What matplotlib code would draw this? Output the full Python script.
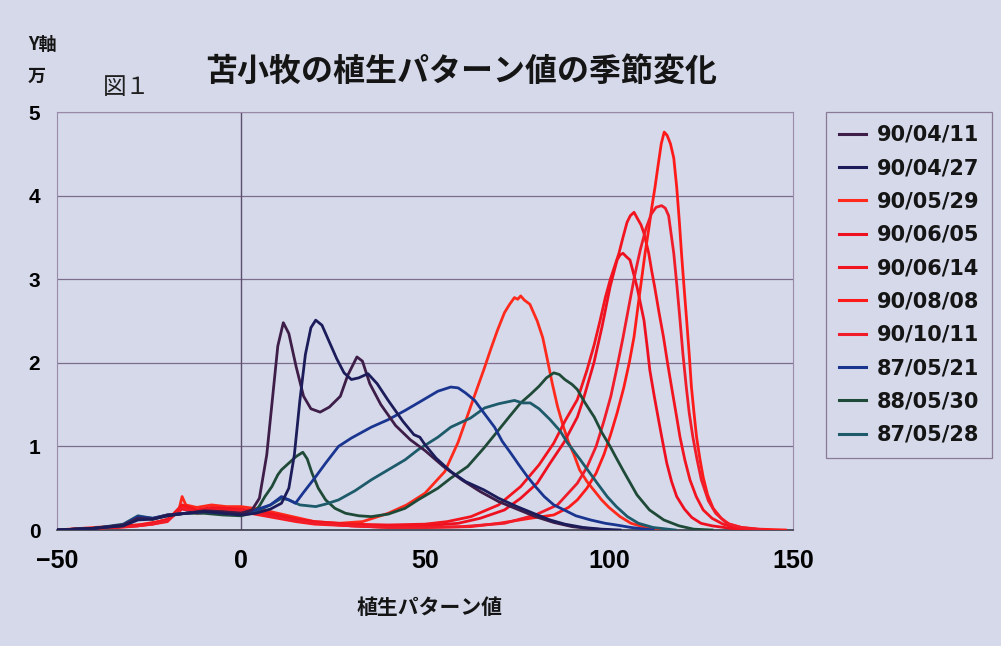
import matplotlib.pyplot as plt
from matplotlib.lines import Line2D

# 背景色など
bg = '#d5d9ea'
grid_c = '#7d6d8c'
jp_font = ['Noto Sans CJK JP', 'DejaVu Sans']
num_font = ['Liberation Sans Narrow', 'Liberation Sans', 'DejaVu Sans']

labels = ['90/04/11', '90/04/27', '90/05/29', '90/06/05', '90/06/14',
          '90/08/08', '90/10/11', '87/05/21', '88/05/30', '87/05/28']
colors = ['#3e1d48', '#1c1c5a', '#ff2a1c', '#ee1020', '#f2141e',
          '#ff1a1a', '#f01c2a', '#1a3590', '#1f4a38', '#1d5a6a']

# 90/04/11
x_0411 = [-50, -40, -32, -28, -24, -20, -15, -10, -5, 0, 3, 5, 7, 8.5, 10, 11.5, 13, 15, 17, 19,
          21.5, 24, 27, 29, 31.5, 33, 35, 38, 42, 46, 50, 55, 60, 65, 70, 75, 80, 85, 90, 95, 100]
y_0411 = [0, 0.02, 0.06, 0.14, 0.13, 0.18, 0.2, 0.23, 0.22, 0.2, 0.24, 0.38, 0.9, 1.55, 2.2, 2.48, 2.35, 1.95, 1.6, 1.45,
          1.41, 1.47, 1.6, 1.85, 2.07, 2.02, 1.75, 1.5, 1.25, 1.08, 0.95, 0.76, 0.6, 0.46, 0.34, 0.25, 0.16, 0.09, 0.04, 0.015, 0]

# 90/04/27
x_0427 = [-50, -40, -32, -28, -24, -20, -15, -10, -5, 0, 4, 8, 11, 13, 14.5, 16, 17.5, 19, 20.3, 22,
          24, 26, 28, 30, 32, 34.5, 37, 40, 44, 47, 48.6, 50, 53, 57, 61, 66, 70, 75, 80, 84, 88, 93, 98, 103]
y_0427 = [0, 0.02, 0.05, 0.12, 0.13, 0.17, 0.2, 0.22, 0.2, 0.18, 0.2, 0.25, 0.32, 0.5, 0.9, 1.55, 2.1, 2.42, 2.51, 2.45,
          2.25, 2.05, 1.88, 1.8, 1.82, 1.87, 1.75, 1.55, 1.3, 1.14, 1.11, 1.02, 0.86, 0.7, 0.58, 0.48, 0.38, 0.28, 0.19, 0.12, 0.07, 0.03, 0.01, 0]

# 90/05/29
x_0529 = [-50, -40, -33, -28, -24, -20, -17, -16, -15, -12, -8, -4, 0, 5, 10, 15, 20, 26.5, 33, 40, 45, 50,
          55.4, 59, 63, 66, 68, 69.7, 71.6, 73, 74.3, 75.2, 76, 77, 78.5, 79.5, 80.5, 82, 83.2, 84.6, 86,
          87.5, 89, 90.5, 92, 94, 96, 98, 100, 103, 106, 110, 116]
y_0529 = [0, 0.03, 0.05, 0.06, 0.09, 0.12, 0.22, 0.4, 0.3, 0.27, 0.3, 0.28, 0.28, 0.25, 0.2, 0.15, 0.1, 0.08, 0.1, 0.2, 0.3, 0.44,
          0.7, 1.05, 1.55, 1.92, 2.18, 2.39, 2.6, 2.7, 2.78, 2.76, 2.8, 2.75, 2.7, 2.6, 2.5, 2.3, 2.05, 1.75, 1.48,
          1.25, 1.05, 0.9, 0.72, 0.58, 0.47, 0.36, 0.27, 0.16, 0.08, 0.03, 0]

# 90/06/05
x_0605 = [-50, -40, -33, -28, -24, -20, -16, -12, -8, -4, 0, 5, 10, 15, 20, 30, 40, 50, 59, 65, 71.6, 76,
          80.5, 84, 87.8, 91.4, 93.2, 95.9, 98.1, 100.3, 101.3, 102.2, 103, 103.8, 104.7, 105.7, 106.6,
          107.6, 108.5, 109.5, 110.3, 111.1, 112.3, 113.5, 114.6, 115.7, 117, 118.4, 120.5, 122.5, 125, 128, 133, 138]
y_0605 = [0, 0.02, 0.04, 0.05, 0.08, 0.13, 0.25, 0.22, 0.25, 0.24, 0.24, 0.2, 0.16, 0.12, 0.09, 0.05, 0.04, 0.05, 0.08, 0.14, 0.24, 0.38,
          0.56, 0.8, 1.05, 1.35, 1.59, 2.0, 2.43, 2.91, 3.08, 3.23, 3.29, 3.31, 3.27, 3.23, 3.08,
          2.91, 2.72, 2.51, 2.22, 1.91, 1.6, 1.31, 1.05, 0.8, 0.58, 0.4, 0.25, 0.15, 0.08, 0.05, 0.02, 0]

# 90/06/14
x_0614 = [-50, -40, -33, -28, -24, -20, -16, -12, -8, -4, 0, 5, 10, 15, 20, 30, 40, 50, 56, 62.5, 70, 76,
          81, 85, 88, 91.4, 94, 96, 97.6, 99, 100.3, 101.5, 102.7, 103.8, 104.9, 105.8, 106.8, 107.8, 108.7,
          109.5, 110.8, 111.6, 112.4, 113.6, 114.8, 115.9, 117, 118.2, 119.3, 120.6, 122, 123.7, 125.6, 128, 131, 135, 140]
y_0614 = [0, 0.02, 0.04, 0.06, 0.08, 0.12, 0.3, 0.24, 0.27, 0.26, 0.25, 0.22, 0.18, 0.13, 0.1, 0.07, 0.06, 0.07, 0.1, 0.16, 0.3, 0.52,
          0.78, 1.04, 1.3, 1.56, 1.91, 2.22, 2.51, 2.78, 2.99, 3.15, 3.31, 3.5, 3.68, 3.76, 3.8, 3.72, 3.65,
          3.55, 3.31, 3.1, 2.91, 2.6, 2.31, 2.0, 1.71, 1.4, 1.11, 0.84, 0.6, 0.4, 0.24, 0.14, 0.07, 0.02, 0]

# 90/08/08
x_0808 = [-50, -40, -33, -28, -24, -20, -16, -12, -8, -4, 0, 5, 10, 15, 20, 30, 40, 50, 62.4, 70, 78.6, 85,
          89, 91.4, 94, 96.5, 98.6, 100.5, 102.2, 104, 105.5, 106.8, 108.4, 109.8, 110.8, 111.6, 112.5, 113.3,
          114.2, 115, 115.8, 116.7, 117.6, 118.4, 119.1, 119.7, 120.4, 121.1, 121.8, 122.4, 123.1, 123.8, 124.7,
          125.6, 126.8, 128.3, 130.5, 132.7, 136, 141, 148]
y_0808 = [0, 0.02, 0.04, 0.05, 0.07, 0.1, 0.28, 0.2, 0.22, 0.22, 0.22, 0.18, 0.14, 0.1, 0.07, 0.05, 0.03, 0.03, 0.04, 0.08, 0.14, 0.18,
          0.27, 0.36, 0.5, 0.68, 0.9, 1.15, 1.4, 1.7, 2.0, 2.31, 2.85, 3.31, 3.6, 3.85, 4.1, 4.35,
          4.62, 4.76, 4.72, 4.62, 4.45, 4.1, 3.7, 3.31, 2.9, 2.51, 2.1, 1.71, 1.4, 1.11, 0.85,
          0.63, 0.42, 0.26, 0.14, 0.07, 0.03, 0.01, 0]

# 90/10/11
x_1011 = [-50, -40, -33, -28, -24, -20, -16, -12, -8, -4, 0, 5, 10, 15, 20, 30, 40, 50, 60, 71.6, 80, 86,
          91.4, 94, 96.5, 98.6, 100.5, 102.2, 103.8, 105.5, 107, 108.5, 110, 111.5, 112.8, 114.3, 115.3, 116.2,
          117.6, 118.5, 119.3, 120.1, 121, 121.8, 122.8, 123.9, 125.1, 127, 129, 132, 136, 142]
y_1011 = [0, 0.02, 0.03, 0.05, 0.07, 0.11, 0.26, 0.21, 0.24, 0.23, 0.23, 0.19, 0.15, 0.11, 0.08, 0.05, 0.03, 0.03, 0.04, 0.08, 0.18, 0.3,
          0.56, 0.75, 1.0, 1.3, 1.6, 1.95, 2.3, 2.7, 3.05, 3.35, 3.6, 3.78, 3.86, 3.88, 3.85, 3.76,
          3.31, 2.9, 2.51, 2.1, 1.71, 1.4, 1.11, 0.85, 0.6, 0.35, 0.2, 0.08, 0.03, 0]

# 87/05/21
x_8721 = [-50, -40, -32, -28, -24, -20, -15, -10, -5, 0, 4, 8, 11, 13, 14.8, 17, 20, 23, 26.5, 30, 35.4,
          40, 44.6, 48.1, 53.5, 57, 59, 61, 63.5, 66, 68.9, 71, 73.3, 75.5, 77.8, 80, 82.4, 85, 87.8, 91,
          95, 99, 102, 106, 112]
y_8721 = [0, 0.02, 0.06, 0.16, 0.14, 0.18, 0.2, 0.22, 0.21, 0.2, 0.24, 0.3, 0.4, 0.36, 0.32, 0.45, 0.62, 0.8, 1.0, 1.1, 1.23,
          1.32, 1.43, 1.52, 1.66, 1.71, 1.7, 1.64, 1.55, 1.4, 1.23, 1.06, 0.92, 0.78, 0.64, 0.52, 0.4, 0.3, 0.24, 0.17,
          0.12, 0.08, 0.06, 0.03, 0]

# 88/05/30
x_8830 = [-50, -40, -32, -28, -24, -20, -15, -10, -5, 0, 3, 4.9, 6.5, 8.4, 10, 11, 13, 15, 16.8, 18, 19.3,
          21, 23, 25.5, 28.4, 32, 35.4, 40, 44.6, 48.1, 53.5, 57, 61.6, 66, 69.7, 73, 76, 78.6, 81, 83, 85,
          86.5, 88, 90, 91.4, 93.5, 96, 98, 100.3, 102, 104, 107.6, 111, 114.9, 119, 123, 128]
y_8830 = [0, 0.02, 0.05, 0.15, 0.13, 0.17, 0.2, 0.2, 0.18, 0.17, 0.2, 0.28, 0.4, 0.52, 0.66, 0.72, 0.8, 0.88, 0.93, 0.85, 0.68,
          0.5, 0.36, 0.26, 0.2, 0.17, 0.16, 0.19, 0.26, 0.36, 0.5, 0.62, 0.76, 0.98, 1.18, 1.36, 1.52, 1.62, 1.72, 1.82, 1.88,
          1.86, 1.8, 1.74, 1.68, 1.52, 1.35, 1.17, 1.0, 0.86, 0.7, 0.42, 0.24, 0.12, 0.05, 0.01, 0]

# 87/05/28
x_8728 = [-50, -40, -32, -28, -24, -20, -15, -10, -5, 0, 4, 8, 11, 13, 16, 20.3, 23, 26.5, 31, 35.4, 40,
          44.6, 48.1, 53.5, 57, 62.4, 66.2, 70, 74.3, 76.5, 78.6, 81, 84, 86.8, 88.6, 90.5, 92.2, 94.5, 96.8,
          99.5, 102, 105, 108, 112, 118]
y_8728 = [0, 0.02, 0.07, 0.17, 0.14, 0.18, 0.2, 0.22, 0.2, 0.18, 0.22, 0.3, 0.38, 0.36, 0.3, 0.28, 0.31, 0.36, 0.47, 0.6, 0.72,
          0.84, 0.96, 1.11, 1.23, 1.34, 1.46, 1.51, 1.55, 1.52, 1.52, 1.45, 1.32, 1.18, 1.05, 0.94, 0.84, 0.7, 0.56,
          0.4, 0.28, 0.16, 0.08, 0.03, 0]

xs = [x_0411, x_0427, x_0529, x_0605, x_0614, x_0808, x_1011, x_8721, x_8830, x_8728]
ys = [y_0411, y_0427, y_0529, y_0605, y_0614, y_0808, y_1011, y_8721, y_8830, y_8728]

fig = plt.figure(figsize=(10.01, 6.46), dpi=100, facecolor=bg)
ax = fig.add_axes([57 / 1001, 1 - 530 / 646, (793 - 57) / 1001, (530 - 112) / 646])
ax.set_facecolor(bg)

# 線グラフ（赤系は後ろ、濃色は手前）
order = [2, 3, 4, 5, 6, 8, 9, 7, 0, 1]
for i in order:
    ax.plot(xs[i], ys[i], color=colors[i], lw=2.0, zorder=3, solid_joinstyle='round')

ax.set_xlim(-50, 150)
ax.set_ylim(0, 5)
ax.set_xticks([-50, 0, 50, 100, 150])
ax.set_yticks([0, 1, 2, 3, 4, 5])
ax.set_xticklabels(['\u221250', '0', '50', '100', '150'])
ax.yaxis.grid(True, color=grid_c, lw=0.9, zorder=1)
ax.axvline(0, color='#5e4e6e', lw=1.0, zorder=2)
for s in ['left', 'top', 'right']:
    ax.spines[s].set_color('#9a8aa8')
    ax.spines[s].set_linewidth(0.8)
ax.spines['bottom'].set_color('#3a3a4a')
ax.spines['bottom'].set_linewidth(1.2)
ax.tick_params(length=0)
ax.tick_params(axis='y', pad=12)
ax.tick_params(axis='x', pad=14)
for t in ax.get_xticklabels() + ax.get_yticklabels():
    t.set_family(num_font)
    t.set_fontweight('bold')
for t in ax.get_xticklabels():
    t.set_fontsize(18)
for t in ax.get_yticklabels():
    t.set_fontsize(15)

# 文字
fig.text(0.461, 1 - 72 / 646, '苫小牧の植生パターン値の季節変化', family=jp_font,
         fontsize=23, fontweight='bold', ha='center', va='center', color='#151515')
fig.text(103 / 1001, 1 - 88 / 646, '図１', family=jp_font, fontsize=17,
         ha='left', va='center', color='#202020')
fig.text(28 / 1001, 1 - 45 / 646, 'Y軸', family=jp_font, fontsize=13,
         fontweight='bold', ha='left', va='center', color='#151515')
fig.text(28 / 1001, 1 - 76 / 646, '万', family=jp_font, fontsize=13,
         fontweight='bold', ha='left', va='center', color='#151515')
fig.text(430 / 1001, 1 - 608 / 646, '植生パターン値', family=jp_font, fontsize=15,
         fontweight='bold', ha='center', va='center', color='#151515')

# 凡例
handles = [Line2D([], [], color=c, lw=2.2) for c in colors]
leg = ax.legend(handles, labels, loc='upper left',
                bbox_to_anchor=(826 / 1001, 1 - 112 / 646), bbox_transform=fig.transFigure,
                borderaxespad=0, fancybox=False, facecolor=bg, edgecolor='#8a7a98',
                framealpha=1, handlelength=1.3, handletextpad=0.5, labelspacing=0.64,
                borderpad=0.62, prop={'family': 'DejaVu Sans', 'weight': 'bold', 'size': 15})
leg.get_frame().set_linewidth(0.9)
for t in leg.get_texts():
    t.set_color('#151515')

fig.savefig('out.png', dpi=100, facecolor=bg)
